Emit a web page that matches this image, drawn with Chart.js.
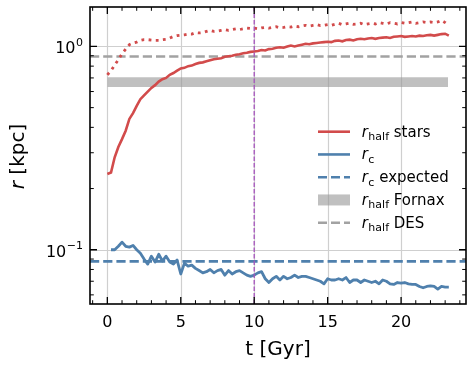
<!DOCTYPE html>
<html>
<head>
<meta charset="utf-8">
<script src="https://cdn.jsdelivr.net/npm/chart.js@4.4.1/dist/chart.umd.min.js"></script>
<style>
  html, body { margin: 0; padding: 0; background: #fff; }
  #wrap { width: 473px; height: 369px; }
</style>
</head>
<body>
<div id="wrap"><canvas id="chart" width="473" height="369"></canvas></div>
<script>
// time in Gyr
const tGyr = [
  0, 0.25, 0.5, 0.75, 1, 1.25, 1.5, 1.75, 2, 2.25, 2.5, 2.75, 3, 3.25, 3.5, 3.75,
  4, 4.25, 4.5, 4.75, 5, 5.25, 5.5, 5.75, 6, 6.25, 6.5, 6.75, 7, 7.25, 7.5, 7.75,
  8, 8.25, 8.5, 8.75, 9, 9.25, 9.5, 9.75, 10, 10.25, 10.5, 10.75, 11, 11.25, 11.5, 11.75,
  12, 12.25, 12.5, 12.75, 13, 13.25, 13.5, 13.75, 14, 14.25, 14.5, 14.75, 15, 15.25, 15.5, 15.75,
  16, 16.25, 16.5, 16.75, 17, 17.25, 17.5, 17.75, 18, 18.25, 18.5, 18.75, 19, 19.25, 19.5, 19.75,
  20, 20.25, 20.5, 20.75, 21, 21.25, 21.5, 21.75, 22, 22.25, 22.5, 22.75, 23, 23.25
]

// r_half of the stars (solid red), kpc
const rHalfStars = [
  0.236, 0.240, 0.285, 0.320, 0.350, 0.385, 0.440, 0.470, 0.510, 0.550, 0.575, 0.600,
  0.625, 0.645, 0.672, 0.690, 0.700, 0.725, 0.740, 0.760, 0.780, 0.785, 0.800, 0.805,
  0.820, 0.830, 0.835, 0.845, 0.855, 0.865, 0.870, 0.875, 0.890, 0.895, 0.900, 0.910,
  0.915, 0.925, 0.930, 0.940, 0.945, 0.950, 0.960, 0.955, 0.970, 0.975, 0.985, 0.990,
  0.985, 1.000, 1.010, 1.000, 1.010, 1.020, 1.030, 1.025, 1.035, 1.040, 1.045, 1.050,
  1.055, 1.050, 1.065, 1.070, 1.060, 1.075, 1.080, 1.070, 1.085, 1.090, 1.085, 1.095,
  1.100, 1.090, 1.100, 1.105, 1.110, 1.100, 1.115, 1.120, 1.125, 1.115, 1.120, 1.125,
  1.120, 1.130, 1.125, 1.135, 1.140, 1.130, 1.140, 1.150, 1.155, 1.130
]

// second red series (dotted), kpc
const rHalfDotted = [
  0.725, 0.760, 0.810, 0.860, 0.920, 0.970, 1.020, 1.040, 1.050, 1.070, 1.080, 1.080,
  1.075, 1.070, 1.070, 1.080, 1.085, 1.100, 1.120, 1.130, 1.135, 1.140, 1.150, 1.150,
  1.170, 1.165, 1.170, 1.185, 1.200, 1.185, 1.190, 1.200, 1.210, 1.200, 1.210, 1.220,
  1.210, 1.220, 1.230, 1.225, 1.230, 1.220, 1.235, 1.240, 1.230, 1.240, 1.250, 1.235,
  1.240, 1.250, 1.245, 1.260, 1.250, 1.260, 1.270, 1.260, 1.270, 1.280, 1.265, 1.270,
  1.280, 1.270, 1.285, 1.300, 1.280, 1.290, 1.300, 1.285, 1.290, 1.300, 1.280, 1.290,
  1.300, 1.290, 1.310, 1.300, 1.290, 1.310, 1.300, 1.290, 1.310, 1.300, 1.310, 1.320,
  1.300, 1.310, 1.320, 1.310, 1.320, 1.310, 1.320, 1.345, 1.310, 1.270
]

// core radius (solid blue), starts at t = 0.25
const rCore = [
  0.100, 0.100, 0.104, 0.109, 0.104, 0.103, 0.105, 0.100, 0.096, 0.090, 0.085,
  0.093, 0.087, 0.095, 0.088, 0.093, 0.087, 0.085, 0.089, 0.076, 0.086, 0.083, 0.084,
  0.081, 0.079, 0.077, 0.078, 0.080, 0.077, 0.079, 0.080, 0.075, 0.079, 0.076, 0.078,
  0.079, 0.077, 0.075, 0.074, 0.075, 0.077, 0.078, 0.072, 0.069, 0.072, 0.074, 0.071,
  0.074, 0.072, 0.073, 0.075, 0.073, 0.074, 0.074, 0.073, 0.072, 0.071, 0.070, 0.068,
  0.072, 0.071, 0.071, 0.072, 0.071, 0.073, 0.069, 0.071, 0.071, 0.069, 0.071, 0.070,
  0.069, 0.070, 0.068, 0.071, 0.070, 0.068, 0.0675, 0.069, 0.0685, 0.069, 0.068, 0.0675,
  0.0675, 0.066, 0.065, 0.066, 0.0665, 0.066, 0.064, 0.066, 0.0655, 0.0655
]

// reference values, kpc
const rCoreExpected = 0.0877
const rHalfDES = 0.893
const rHalfFornax = [0.632, 0.706] // band low / high
const fornaxSpan = [0, 23.2]
const tMarker = 10

const xRange = [-1.18, 24.42]
const yRange = [0.0541, 1.563]
const xMajor = [0, 5, 10, 15, 20]
const xMinor = [-1, 1, 2, 3, 4, 6, 7, 8, 9, 11, 12, 13, 14, 16, 17, 18, 19, 21, 22, 23, 24]
const yMajor = [0.1, 1]
const yMajorLabels = [['10', '\u22121'], ['10', '0']]
const yMinor = [0.06, 0.07, 0.08, 0.09, 0.2, 0.3, 0.4, 0.5, 0.6, 0.7, 0.8, 0.9]

const RED = '#d24b4b'
const BLUE = '#4f80ad'
const GREY = '#a2a2a2'
const BAND = 'rgba(150,150,150,0.6)'
const PURPLE = '#a653bd'
const FONT = '"DejaVu Sans", sans-serif'

const toPts = (xs, ys) => ys.map((y, i) => ({ x: xs[i], y }))
const hline = (y) => [{ x: xRange[0], y }, { x: xRange[1], y }]

const legendItems = [
  { kind: 'line', color: RED, dash: [], sub: 'half', rest: ' stars' },
  { kind: 'line', color: BLUE, dash: [], sub: 'c', rest: '' },
  { kind: 'line', color: BLUE, dash: [9, 4], sub: 'c', rest: ' expected' },
  { kind: 'patch', color: BAND, sub: 'half', rest: ' Fornax' },
  { kind: 'line', color: GREY, dash: [9, 4], sub: 'half', rest: ' DES' },
]

// r + subscript + rest, drawn left to right
function richText(ctx, x, y, size, sub, rest) {
  ctx.textAlign = 'left'
  ctx.textBaseline = 'alphabetic'
  ctx.font = `italic ${size}px ${FONT}`
  ctx.fillText('r', x, y)
  x += ctx.measureText('r').width + 0.5
  const subSize = Math.round(size * 0.7)
  ctx.font = `${subSize}px ${FONT}`
  ctx.fillText(sub, x, y + 3.3)
  x += ctx.measureText(sub).width
  ctx.font = `${size}px ${FONT}`
  ctx.fillText(rest, x, y)
  return x + ctx.measureText(rest).width
}

const axesDecor = {
  id: 'axesDecor',
  beforeDatasetsDraw(chart) {
    const { ctx, chartArea: a, scales: { x, y } } = chart
    ctx.save()
    ctx.strokeStyle = '#cfcfcf'
    ctx.lineWidth = 1.2
    ctx.beginPath()
    xMajor.forEach(v => {
      const px = Math.round(x.getPixelForValue(v)) + 0.5
      ctx.moveTo(px, a.top); ctx.lineTo(px, a.bottom)
    })
    yMajor.forEach(v => {
      const py = Math.round(y.getPixelForValue(v)) + 0.5
      ctx.moveTo(a.left, py); ctx.lineTo(a.right, py)
    })
    ctx.stroke()
    ctx.restore()
  },
  afterDraw(chart) {
    const { ctx, chartArea: a, scales: { x, y } } = chart
    ctx.save()
    ctx.strokeStyle = '#000'
    ctx.fillStyle = '#000'

    // ticks pointing inwards on every side
    const tick = (vals, scale, horiz, len, lw) => {
      ctx.lineWidth = lw
      ctx.beginPath()
      vals.forEach(v => {
        const p = scale.getPixelForValue(v)
        if (horiz) {
          ctx.moveTo(p, a.bottom); ctx.lineTo(p, a.bottom - len)
          ctx.moveTo(p, a.top); ctx.lineTo(p, a.top + len)
        } else {
          ctx.moveTo(a.left, p); ctx.lineTo(a.left + len, p)
          ctx.moveTo(a.right, p); ctx.lineTo(a.right - len, p)
        }
      })
      ctx.stroke()
    }
    tick(xMajor, x, true, 7, 1.3)
    tick(xMinor, x, true, 3.8, 1)
    tick(yMajor, y, false, 7, 1.3)
    tick(yMinor, y, false, 3.8, 1)

    ctx.lineWidth = 1.6
    ctx.strokeRect(a.left, a.top, a.right - a.left, a.bottom - a.top)

    // x tick labels
    ctx.font = `16px ${FONT}`
    ctx.textAlign = 'center'
    ctx.textBaseline = 'alphabetic'
    xMajor.forEach(v => ctx.fillText(String(v), x.getPixelForValue(v), 326.5))

    // y tick labels: 10 with a superscript
    yMajor.forEach((v, i) => {
      const [base, exp] = yMajorLabels[i]
      const py = y.getPixelForValue(v)
      ctx.font = `11px ${FONT}`
      const ew = ctx.measureText(exp).width
      ctx.textAlign = 'right'
      ctx.fillText(exp, 83, py - 0.7)
      ctx.font = `16px ${FONT}`
      ctx.fillText(base, 83 - ew - 0.5, py + 7)
    })

    // axis titles
    ctx.font = `20px ${FONT}`
    ctx.textAlign = 'center'
    ctx.fillText('t [Gyr]', (a.left + a.right) / 2, 355.4)

    ctx.save()
    ctx.translate(24.4, (a.top + a.bottom) / 2 + 1)
    ctx.rotate(-Math.PI / 2)
    ctx.font = `italic 20px ${FONT}`
    const rw = ctx.measureText('r').width
    ctx.font = `20px ${FONT}`
    const kw = ctx.measureText(' [kpc]').width
    let sx = -(rw + kw) / 2
    ctx.textAlign = 'left'
    ctx.font = `italic 20px ${FONT}`
    ctx.fillText('r', sx, 0)
    ctx.font = `20px ${FONT}`
    ctx.fillText(' [kpc]', sx + rw, 0)
    ctx.restore()

    // legend
    const lx0 = 318, lx1 = 350, tx = 361.7
    legendItems.forEach((it, i) => {
      const cy = 131.7 + i * 22.75
      if (it.kind === 'patch') {
        ctx.fillStyle = it.color
        ctx.fillRect(lx0, cy - 5.5, lx1 - lx0, 11)
      } else {
        ctx.strokeStyle = it.color
        ctx.lineWidth = 2.6
        ctx.setLineDash(it.dash)
        ctx.beginPath()
        ctx.moveTo(lx0, cy); ctx.lineTo(lx1, cy)
        ctx.stroke()
        ctx.setLineDash([])
      }
      ctx.fillStyle = '#000'
      richText(ctx, tx, cy + 5, 15, it.sub, it.rest)
    })
    ctx.restore()
  }
}

const lineDefaults = { pointRadius: 0, tension: 0, fill: false, borderCapStyle: 'butt' }

new Chart(document.getElementById('chart'), {
  type: 'line',
  data: {
    datasets: [
      { ...lineDefaults, label: 't = 10 Gyr', data: [{ x: tMarker, y: yRange[0] }, { x: tMarker, y: yRange[1] }],
        borderColor: PURPLE, borderWidth: 1.3, borderDash: [4.5, 2] },
      { ...lineDefaults, label: 'r_half stars', data: toPts(tGyr, rHalfStars),
        borderColor: RED, borderWidth: 2.6 },
      { ...lineDefaults, label: 'r_half dotted', data: toPts(tGyr, rHalfDotted),
        borderColor: RED, borderWidth: 2.8, borderDash: [2.8, 4.4] },
      { ...lineDefaults, label: 'r_c', data: toPts(tGyr.slice(1), rCore),
        borderColor: BLUE, borderWidth: 2.8, borderJoinStyle: 'round' },
      { ...lineDefaults, label: 'r_c expected', data: hline(rCoreExpected),
        borderColor: BLUE, borderWidth: 2.6, borderDash: [9.2, 4] },
      { ...lineDefaults, label: 'r_half DES', data: hline(rHalfDES),
        borderColor: GREY, borderWidth: 2.6, borderDash: [9.2, 4] },
      { ...lineDefaults, label: 'r_half Fornax', data: fornaxSpan.map(t => ({ x: t, y: rHalfFornax[1] })),
        borderWidth: 0, borderColor: 'rgba(0,0,0,0)', backgroundColor: BAND, fill: '+1' },
      { ...lineDefaults, label: 'Fornax low', data: fornaxSpan.map(t => ({ x: t, y: rHalfFornax[0] })),
        borderWidth: 0, borderColor: 'rgba(0,0,0,0)' },
    ]
  },
  options: {
    responsive: false,
    animation: false,
    devicePixelRatio: 1,
    layout: { padding: { left: 90, right: 7, top: 7, bottom: 65 } },
    plugins: { legend: { display: false }, tooltip: { enabled: false } },
    scales: {
      x: { type: 'linear', min: xRange[0], max: xRange[1], display: false },
      y: { type: 'logarithmic', min: yRange[0], max: yRange[1], display: false },
    },
  },
  plugins: [axesDecor],
})
</script>
</body>
</html>
